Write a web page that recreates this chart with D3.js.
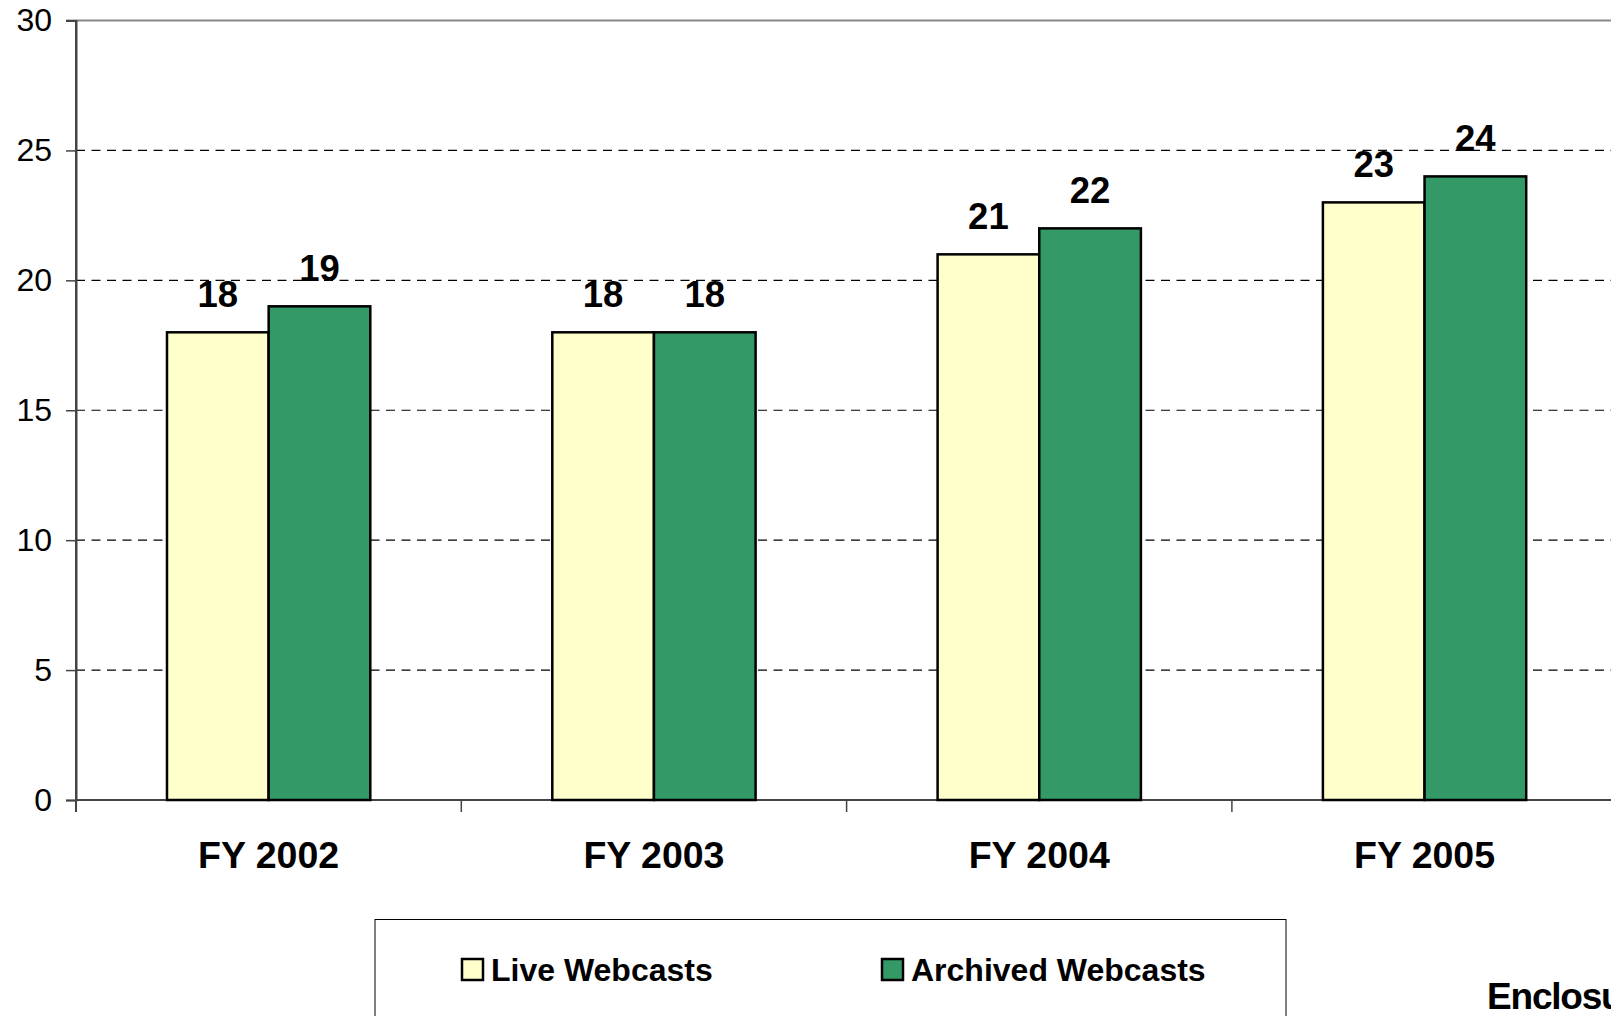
<!DOCTYPE html>
<html>
<head>
<meta charset="utf-8">
<script src="https://cdn.jsdelivr.net/npm/d3@7"></script>
<style>
  html, body { margin: 0; padding: 0; background: #fff; overflow: hidden; }
  svg { display: block; font-family: "Liberation Sans", Arial, sans-serif; }
</style>
</head>
<body>
<div id="chart"></div>
<script>
// Data
const categories = ["FY 2002", "FY 2003", "FY 2004", "FY 2005"];
const seriesNames = ["Live Webcasts", "Archived Webcasts"];
const liveValues = [18, 18, 21, 23];
const archivedValues = [19, 18, 22, 24];
const yTicks = [0, 5, 10, 15, 20, 25, 30];
const colors = ["#FFFFCC", "#339966"];

const W = 1611, H = 1016;
const svg = d3.select("#chart").append("svg")
    .attr("width", W)
    .attr("height", H);

// Scales
const x0 = d3.scaleBand()
    .domain(categories)
    .range([76, 76 + 4 * 385.3])
    .padding(0);

const x1 = d3.scaleBand()
    .domain(seriesNames)
    .range([91, x0.bandwidth() - 91])
    .padding(0);

const y = d3.scaleLinear()
    .domain([0, 30])
    .range([800, 20.5]);

// Top border of plot area
svg.append("line")
    .attr("x1", 66).attr("x2", W)
    .attr("y1", y(30)).attr("y2", y(30))
    .attr("stroke", "#888").attr("stroke-width", 2);

// Dashed gridlines
svg.append("g")
    .selectAll("line")
    .data(yTicks.filter(d => d > 0 && d < 30))
    .join("line")
    .attr("x1", 76).attr("x2", W)
    .attr("y1", d => y(d)).attr("y2", d => y(d))
    .attr("stroke", "#000")
    .attr("stroke-width", 1.2)
    .attr("stroke-dasharray", "9,6.5");

// Y axis
const yAxis = svg.append("g")
    .attr("transform", "translate(76,0)")
    .call(d3.axisLeft(y).tickValues(yTicks).tickSize(10).tickPadding(14));
yAxis.select(".domain").attr("stroke", "#444").attr("stroke-width", 2);
yAxis.selectAll(".tick line").attr("stroke", "#444").attr("stroke-width", 1.5);
yAxis.selectAll(".tick text")
    .attr("fill", "#000")
    .style("font-size", "32px");

// X axis line and boundary ticks
svg.append("line")
    .attr("x1", 76).attr("x2", W)
    .attr("y1", y(0)).attr("y2", y(0))
    .attr("stroke", "#444").attr("stroke-width", 2);

svg.append("g")
    .selectAll("line")
    .data(categories)
    .join("line")
    .attr("x1", d => x0(d)).attr("x2", d => x0(d))
    .attr("y1", y(0)).attr("y2", y(0) + 12)
    .attr("stroke", "#444").attr("stroke-width", 1.5);

svg.append("line")
    .attr("x1", 76).attr("x2", 76)
    .attr("y1", y(30)).attr("y2", y(0) + 12)
    .attr("stroke", "#444").attr("stroke-width", 2);

// Category labels
svg.append("g")
    .selectAll("text")
    .data(categories)
    .join("text")
    .attr("x", d => x0(d) + x0.bandwidth() / 2)
    .attr("y", 868)
    .attr("text-anchor", "middle")
    .style("font-size", "37.5px")
    .style("font-weight", "bold")
    .text(d => d);

// Bars
const rows = categories.map((c, i) => ({
    category: c,
    values: [
        { name: seriesNames[0], value: liveValues[i], color: colors[0] },
        { name: seriesNames[1], value: archivedValues[i], color: colors[1] }
    ]
}));

const groups = svg.append("g")
    .selectAll("g")
    .data(rows)
    .join("g")
    .attr("transform", d => `translate(${x0(d.category)},0)`);

groups.selectAll("rect")
    .data(d => d.values)
    .join("rect")
    .attr("x", d => x1(d.name))
    .attr("width", x1.bandwidth())
    .attr("y", d => y(d.value))
    .attr("height", d => y(0) - y(d.value))
    .attr("fill", d => d.color)
    .attr("stroke", "#000")
    .attr("stroke-width", 2.5);

groups.selectAll("text")
    .data(d => d.values)
    .join("text")
    .attr("x", d => x1(d.name) + x1.bandwidth() / 2)
    .attr("y", d => y(d.value) - 25)
    .attr("text-anchor", "middle")
    .style("font-size", "36.5px")
    .style("font-weight", "bold")
    .text(d => d.value);

// Legend
const legend = svg.append("g");
legend.append("rect")
    .attr("x", 375).attr("y", 919.5)
    .attr("width", 911).attr("height", 200)
    .attr("fill", "none")
    .attr("stroke", "#000")
    .attr("stroke-width", 1);

const legendX = [461, 881];
const items = legend.selectAll("g")
    .data(seriesNames)
    .join("g")
    .attr("transform", (d, i) => `translate(${legendX[i]},958)`);

items.append("rect")
    .attr("x", 1).attr("y", 1)
    .attr("width", 21).attr("height", 21)
    .attr("fill", (d, i) => colors[i])
    .attr("stroke", "#000")
    .attr("stroke-width", 2.5);

items.append("text")
    .attr("x", 30)
    .attr("y", 23)
    .style("font-size", "32px")
    .style("font-weight", "bold")
    .text(d => d);

// Page footer text (cut at right edge, as in the source page)
svg.append("text")
    .attr("x", 1487)
    .attr("y", 1009)
    .style("font-size", "37px")
    .style("font-weight", "bold")
    .style("letter-spacing", "-1.2px")
    .text("Enclosure");
</script>
</body>
</html>
